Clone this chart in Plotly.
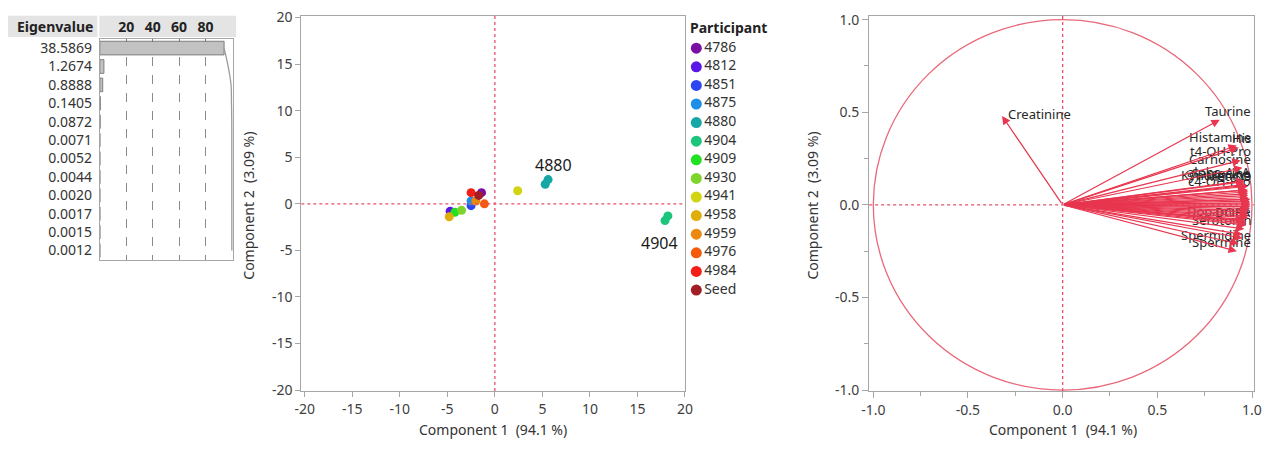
import numpy as np
import plotly.graph_objects as go

W, H = 1284, 453
FONT = "Noto Sans"

# ---------------- data ----------------
eigen_labels = ["38.5869", "1.2674", "0.8888", "0.1405", "0.0872", "0.0071",
                "0.0052", "0.0044", "0.0020", "0.0017", "0.0015", "0.0012"]
eigenvalues = [38.5869, 1.2674, 0.8888, 0.1405, 0.0872, 0.0071,
               0.0052, 0.0044, 0.0020, 0.0017, 0.0015, 0.0012]
pct_ticks = [20, 40, 60, 80]

participants = ["4786", "4812", "4851", "4875", "4880", "4904", "4909",
                "4930", "4941", "4958", "4959", "4976", "4984", "Seed"]
participant_colors = ["#7a0fa3", "#5a16e6", "#2c46f2", "#1d8fe8", "#16a6a6",
                      "#1cc57c", "#22e022", "#7dd42a", "#d2d412", "#dfae0b",
                      "#ea880f", "#f45a0b", "#f31f16", "#a01e24"]

# score points (Component 1, Component 2)
score_participant = ["Seed", "4786", "4812", "4851", "4875", "4880", "4880",
                     "4904", "4904", "4909", "4930", "4941", "4958", "4959",
                     "4976", "4984"]
score_c1 = [-1.7, -1.4, -4.7, -2.5, -2.5, 5.3, 5.6,
            17.9, 18.2, -4.2, -3.5, 2.4, -4.8, -2.0, -1.1, -2.5]
score_c2 = [0.9, 1.2, -0.8, -0.2, 0.3, 2.1, 2.6,
            -1.8, -1.3, -0.9, -0.7, 1.4, -1.4, 0.3, 0.0, 1.2]
callouts = ["4880", "4904"]

x_ticks = [-20, -15, -10, -5, 0, 5, 10, 15, 20]
x_ticktext = ["-20", "-15", "-10", "-5", "0", "5", "10", "15", "20"]
load_ticks = [-1.0, -0.5, 0.0, 0.5, 1.0]
load_ticktext = ["-1.0", "-0.5", "0.0", "0.5", "1.0"]

# loadings (Component 1, Component 2)
loading_names = ["Creatinine", "Taurine", "Histamine", "His", "t4-OH-Pro",
                 "Carnosine", "alpha-AAA", "Sarcosine", "Kynurenine", "Met-SO",
                 "c4-OH-Pro", "Pro", "Ala", "Arg", "Met", "Asn", "Asp", "Cit",
                 "Phe", "Gln", "Glu", "Thr", "Gly", "Ile", "Ser", "Leu", "Lys",
                 "Orn", "Val", "Trp", "Tyr", "Dopamine", "DOPA", "ADMA", "SDMA",
                 "Putrescine", "Serotonin", "PEA", "Ac-Orn", "Spermidine",
                 "Spermine"]
loading_c1 = [-0.32, 0.83, 0.92, 0.93, 0.94,
              0.95, 0.96, 0.96, 0.97, 0.97,
              0.97, 0.98, 0.98, 0.98, 0.98, 0.98, 0.98, 0.99,
              0.99, 0.99, 0.99, 0.99, 0.99, 0.99, 0.99, 0.99, 0.98,
              0.98, 0.98, 0.98, 0.98, 0.96, 0.96, 0.97, 0.97,
              0.97, 0.96, 0.95, 0.95, 0.93,
              0.92]
loading_c2 = [0.48, 0.46, 0.32, 0.31, 0.24,
              0.20, 0.13, 0.125, 0.11, 0.105,
              0.08, 0.07, 0.10, 0.08, 0.05, 0.06, 0.04, 0.03,
              0.03, 0.02, 0.01, 0.01, 0.00, -0.01, -0.01, -0.02, -0.03,
              -0.04, -0.05, -0.06, -0.07, -0.08, -0.085, -0.09, -0.10,
              -0.11, -0.13, -0.16, -0.18, -0.21,
              -0.25]
labeled = {"Creatinine", "Taurine", "Histamine", "His", "t4-OH-Pro",
           "Carnosine", "alpha-AAA", "Sarcosine", "Kynurenine", "Met-SO",
           "c4-OH-Pro", "Dopamine", "DOPA", "Serotonin", "Spermidine",
           "Spermine"}


# ---------------- helpers (page pixels -> paper fractions) ----------------
def px_x(px):
    return px / W


def px_y(py):
    return 1 - py / H


def xdom(left, right):
    return [px_x(left), px_x(right)]


def ydom(top, bottom):
    return [px_y(bottom), px_y(top)]


AX_LINE = "#a6a6a6"
TICK_FONT = dict(family=FONT, size=14, color="#404040")
TITLE_FONT = dict(family=FONT, size=14, color="#333333")
REF_RED = "#e8506a"
ARROW_RED = "#e8364f"

fig = go.Figure()

# ---------------- eigenvalue panel ----------------
ev = np.array(eigenvalues)
pct = ev / ev.sum() * 100
cum = np.cumsum(pct)
rows = list(range(len(eigenvalues)))

fig.add_trace(go.Bar(
    x=pct, y=rows, orientation="h", xaxis="x", yaxis="y", width=0.74,
    marker=dict(color="#c2c2c2", line=dict(color="#7d7d7d", width=1)),
    hoverinfo="skip"))
fig.add_trace(go.Scatter(
    x=cum, y=rows, mode="lines", xaxis="x", yaxis="y",
    line=dict(color="#9c9c9c", width=1.3, shape="spline"), hoverinfo="skip"))

# ---------------- score plot ----------------
for name, color in zip(participants, participant_colors):
    xs = [x for x, p in zip(score_c1, score_participant) if p == name]
    ys = [y for y, p in zip(score_c2, score_participant) if p == name]
    fig.add_trace(go.Scatter(
        x=xs, y=ys, mode="markers", name=name, xaxis="x2", yaxis="y2",
        marker=dict(color=color, size=9, line=dict(width=0))))

# participant key drawn on its own axis
fig.add_trace(go.Scatter(
    x=[11] * len(participants), y=list(range(len(participants))),
    mode="markers+text", xaxis="x4", yaxis="y4",
    marker=dict(color=participant_colors, size=11),
    text=participants, textposition="middle right",
    textfont=dict(family=FONT, size=14, color="#333333"), hoverinfo="skip"))

annotations = []
shapes = []

# callout labels next to the outlying participants
callout_offsets = {"4880": (7, 17), "4904": (-7, -25)}
for name in callouts:
    xs = [x for x, p in zip(score_c1, score_participant) if p == name]
    ys = [y for y, p in zip(score_c2, score_participant) if p == name]
    dx, dy = callout_offsets[name]
    annotations.append(dict(
        x=float(np.mean(xs)), y=float(np.mean(ys)), xref="x2", yref="y2",
        text=name, showarrow=False, xshift=dx, yshift=dy,
        xanchor="center", yanchor="middle",
        font=dict(family=FONT, size=16, color="#1a1a1a")))

# dotted reference lines through the origin
for xa, ya in (("x2", "y2"), ("x3", "y3")):
    shapes.append(dict(type="line", xref=xa, yref=ya + " domain", x0=0, x1=0,
                       y0=0, y1=1, line=dict(color=REF_RED, width=1.3, dash="dot")))
    shapes.append(dict(type="line", xref=xa + " domain", yref=ya, x0=0, x1=1,
                       y0=0, y1=0, line=dict(color=REF_RED, width=1.3, dash="dot")))

# ---------------- loading plot ----------------
shapes.append(dict(type="circle", xref="x3", yref="y3", x0=-1, x1=1, y0=-1, y1=1,
                   line=dict(color="#e8697a", width=1.3), layer="below"))

# variable names first, so the arrows sit on top of them
for name, lx, ly in zip(loading_names, loading_c1, loading_c2):
    if name not in labeled:
        continue
    if lx < 0.5:
        annotations.append(dict(
            x=lx, y=ly, xref="x3", yref="y3", text=name, showarrow=False,
            xanchor="left", yanchor="middle", xshift=4, yshift=2,
            font=dict(family=FONT, size=13, color="#262626")))
    else:
        annotations.append(dict(
            x=0.997, y=ly, xref="x3 domain", yref="y3", text=name, showarrow=False,
            xanchor="right", yanchor="middle", yshift=9,
            font=dict(family=FONT, size=13, color="#262626")))

for lx, ly in zip(loading_c1, loading_c2):
    annotations.append(dict(
        x=lx, y=ly, ax=0, ay=0, xref="x3", yref="y3", axref="x3", ayref="y3",
        text="", showarrow=True, arrowhead=2, arrowsize=1.4, arrowwidth=1.2,
        arrowcolor=ARROW_RED))

# ---------------- header / titles ----------------
shapes.append(dict(type="rect", xref="paper", yref="paper",
                   x0=0, x1=px_x(90.5), y0=px_y(30), y1=px_y(8),
                   fillcolor="#e4e4e4", line=dict(width=0), layer="below"))
shapes.append(dict(type="rect", xref="paper", yref="paper",
                   x0=px_x(92.5), x1=px_x(231), y0=px_y(30), y1=px_y(8),
                   fillcolor="#e4e4e4", line=dict(width=0), layer="below"))
annotations.append(dict(x=px_x(88), y=px_y(19), xref="paper", yref="paper",
                        text="<b>Eigenvalue</b>", showarrow=False,
                        xanchor="right", yanchor="middle",
                        font=dict(family=FONT, size=14, color="#222222")))
annotations.append(dict(x=px_x(689), y=px_y(20), xref="paper", yref="paper",
                        text="<b>Participant</b>", showarrow=False,
                        xanchor="left", yanchor="middle",
                        font=dict(family=FONT, size=14, color="#222222")))

for cx, xt in ((491, "Component 1  (94.1 %)"), (1068, "Component 1  (94.1 %)")):
    annotations.append(dict(x=px_x(cx), y=px_y(437), xref="paper", yref="paper",
                            text=xt, showarrow=False, xanchor="center",
                            yanchor="middle", font=TITLE_FONT))
for cx in (244, 815):
    annotations.append(dict(x=px_x(cx), y=px_y(205), xref="paper", yref="paper",
                            text="Component 2  (3.09 %)", showarrow=False,
                            xanchor="center", yanchor="middle",
                            textangle=-90, font=TITLE_FONT))

frame = dict(showline=True, linecolor=AX_LINE, linewidth=1, mirror=True,
             zeroline=False, showgrid=False)

fig.update_layout(
    width=W, height=H, margin=dict(l=0, r=0, t=0, b=0),
    paper_bgcolor="white", plot_bgcolor="rgba(0,0,0,0)", showlegend=False,
    font=dict(family=FONT),
    xaxis=dict(domain=xdom(93, 228), range=[0, 101], side="top",
               tickvals=pct_ticks, ticks="inside", ticklen=3, tickcolor="#777777",
               tickfont=dict(family=FONT, size=14, color="#222222", weight="bold"),
               showgrid=True, gridcolor="#8a8a8a", griddash="dash", gridwidth=1,
               showline=True, linecolor=AX_LINE, mirror=True, zeroline=False),
    yaxis=dict(domain=ydom(32, 261), range=[11.5, -0.5], anchor="x",
               tickvals=rows, ticktext=eigen_labels, ticks="",
               tickfont=dict(family=FONT, size=14, color="#333333"),
               ticklabelstandoff=4,
               showline=True, linecolor=AX_LINE, mirror=True, zeroline=False,
               showgrid=False),
    xaxis2=dict(domain=xdom(297, 686), range=[-20.36, 20.05], anchor="y2",
                tickvals=x_ticks, ticktext=x_ticktext, ticks="outside", ticklen=5,
                tickcolor=AX_LINE, tickfont=TICK_FONT, **frame),
    yaxis2=dict(domain=ydom(8, 397), range=[-20.1, 20.2], anchor="x2",
                tickvals=x_ticks, ticktext=x_ticktext, ticks="outside", ticklen=5,
                tickcolor=AX_LINE, tickfont=TICK_FONT, **frame),
    xaxis3=dict(domain=xdom(872, 1262), range=[-1.022, 1.012], anchor="y3",
                tickvals=load_ticks, ticktext=load_ticktext, ticks="outside",
                ticklen=6, tickcolor=AX_LINE, tickfont=TICK_FONT,
                minor=dict(ticks="outside", dtick=0.25, ticklen=4, tickcolor=AX_LINE),
                **frame),
    yaxis3=dict(domain=ydom(8, 397), range=[-1.005, 1.021], anchor="x3",
                tickvals=load_ticks, ticktext=load_ticktext, ticks="outside",
                ticklen=6, tickcolor=AX_LINE, tickfont=TICK_FONT,
                minor=dict(ticks="outside", dtick=0.25, ticklen=4, tickcolor=AX_LINE),
                **frame),
    xaxis4=dict(domain=xdom(686, 790), range=[0, 104], anchor="y4", visible=False),
    yaxis4=dict(domain=ydom(32, 302), range=[13.5, -0.5], anchor="x4", visible=False),
    annotations=annotations, shapes=shapes,
)

fig.write_html("out.html")
